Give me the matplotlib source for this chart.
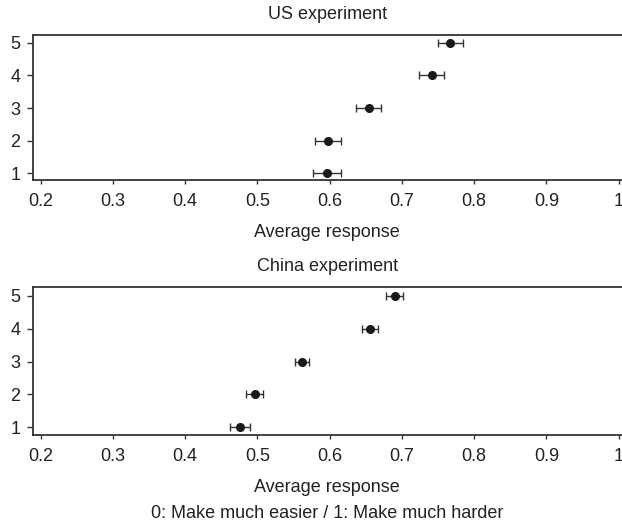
import matplotlib
matplotlib.use("Agg")
import matplotlib.pyplot as plt

plt.rcParams['font.family'] = ['Liberation Sans', 'DejaVu Sans']

categories = [1, 2, 3, 4, 5]
us_means = [0.596, 0.598, 0.654, 0.741, 0.767]
us_err = [0.019, 0.018, 0.017, 0.017, 0.017]
cn_means = [0.476, 0.496, 0.562, 0.656, 0.690]
cn_err = [0.0135, 0.012, 0.0096, 0.011, 0.012]
xticks = [0.2, 0.3, 0.4, 0.5, 0.6, 0.7, 0.8, 0.9, 1.0]
xticklabels = ['0.2', '0.3', '0.4', '0.5', '0.6', '0.7', '0.8', '0.9', '1']

W, H = 622, 520
fig = plt.figure(figsize=(W / 100, H / 100), dpi=100)

txt = '#222222'
spc = '#333333'
fs = 13

def make_ax(top_px, bottom_px, means, errs, title):
    ax = fig.add_axes([32.7 / W, 1 - bottom_px / H, 1 - 32.7 / W, (bottom_px - top_px) / H])
    ax.errorbar(means, categories, xerr=errs, fmt='o', color='#1a1a1a', ecolor='#333333',
                elinewidth=1.0, capsize=2.8, capthick=1.0, markersize=5.5)
    ax.set_xlim(0.189, 1.0046)
    ax.set_ylim(0.785, 5.255)
    ax.set_xticks(xticks)
    ax.set_xticklabels(xticklabels)
    ax.set_yticks(categories)
    ax.spines['right'].set_visible(False)
    for s in ['left', 'top', 'bottom']:
        ax.spines[s].set_color(spc)
        ax.spines[s].set_linewidth(1.3)
    ax.tick_params(axis='x', length=3, width=1, color=spc, labelsize=fs, labelcolor=txt, pad=6.5)
    ax.tick_params(axis='y', length=4, width=1, color=spc, labelsize=fs, labelcolor=txt, pad=5)
    ax.set_title(title, fontsize=fs, color=txt, pad=11.5)
    ax.set_xlabel('Average response', fontsize=fs, color=txt, labelpad=10)
    return ax

ax1 = make_ax(34.7, 180, us_means, us_err, 'US experiment')
ax2 = make_ax(287.3, 434.5, cn_means, cn_err, 'China experiment')

fig.text((32.7 + 622) / 2 / W, 1 - 513 / H, '0: Make much easier / 1: Make much harder',
         ha='center', va='center', fontsize=fs, color=txt)

fig.savefig('out.png', dpi=100)
